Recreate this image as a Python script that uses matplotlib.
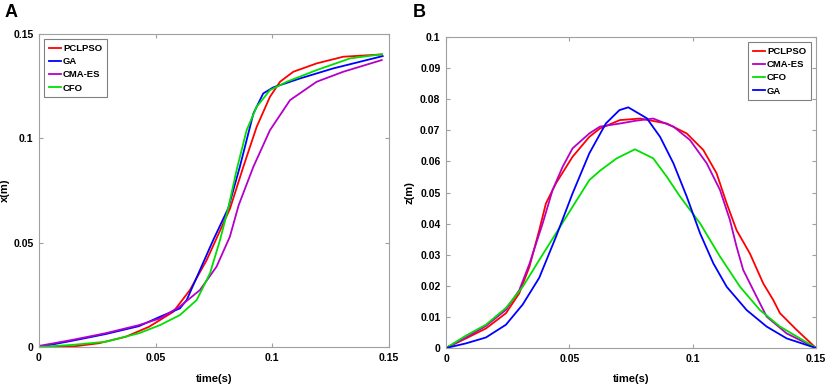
import numpy as np
from matplotlib import pyplot as plt

plt.rcParams['font.family'] = ['Liberation Sans', 'DejaVu Sans']
plt.rcParams['font.weight'] = 'bold'

# Panel A: x(m) over time(s)
tA_red = [0, 0.0143, 0.0257, 0.0372, 0.0472, 0.0576, 0.0647, 0.0719, 0.0819, 0.0876, 0.0933, 0.099, 0.1033, 0.109, 0.119, 0.1304, 0.1469]
xA_red = [0, 0.0002, 0.0018, 0.0049, 0.0097, 0.0169, 0.0273, 0.0417, 0.0664, 0.0864, 0.1055, 0.1199, 0.1271, 0.1319, 0.1359, 0.1391, 0.1402]

tA_blue = [0, 0.0143, 0.0286, 0.0429, 0.0519, 0.0604, 0.0633, 0.069, 0.0747, 0.0811, 0.0861, 0.0919, 0.0961, 0.1004, 0.1119, 0.1261, 0.1473]
xA_blue = [0, 0.0030, 0.0062, 0.0100, 0.0145, 0.0185, 0.0225, 0.0369, 0.0513, 0.0664, 0.0864, 0.1119, 0.1215, 0.1244, 0.1287, 0.1335, 0.1394]

tA_mag = [0, 0.0143, 0.0286, 0.0429, 0.0519, 0.0604, 0.069, 0.0761, 0.0818, 0.0856, 0.0919, 0.099, 0.1076, 0.119, 0.1304, 0.1469]
xA_mag = [0.0005, 0.0034, 0.0066, 0.0105, 0.0137, 0.0194, 0.0273, 0.0385, 0.0528, 0.0680, 0.0864, 0.1039, 0.1183, 0.1271, 0.1319, 0.1375]

tA_green = [0, 0.0143, 0.0286, 0.0429, 0.0519, 0.0604, 0.0676, 0.0733, 0.0776, 0.0811, 0.0847, 0.089, 0.0933, 0.099, 0.1062, 0.119, 0.1333, 0.147]
xA_green = [0, 0.0010, 0.0025, 0.0066, 0.0105, 0.0153, 0.0225, 0.0353, 0.0513, 0.0664, 0.0848, 0.1039, 0.1151, 0.1231, 0.1271, 0.1327, 0.1383, 0.1403]

# Panel B: z(m) over time(s)
tB_red = [0, 0.0081, 0.0162, 0.0243, 0.0297, 0.0338, 0.0378, 0.0405, 0.0446, 0.0513, 0.0581, 0.0624, 0.0705, 0.0787, 0.0895, 0.0976,
          0.1043, 0.1097, 0.1138, 0.1178, 0.1232, 0.1286, 0.1327, 0.1354, 0.1422, 0.15]
zB_red = [0, 0.0031, 0.0063, 0.0112, 0.0176, 0.0261, 0.0379, 0.0465, 0.0530, 0.0615, 0.0679, 0.0706, 0.0733, 0.0738, 0.0722, 0.0690,
          0.0637, 0.0562, 0.0465, 0.0379, 0.0304, 0.0208, 0.0154, 0.0112, 0.0058, 0]

tB_mag = [0, 0.0081, 0.0162, 0.0243, 0.0297, 0.0338, 0.0392, 0.0432, 0.0473, 0.0513, 0.0581, 0.0624, 0.0705, 0.077, 0.084, 0.0922,
          0.0989, 0.1057, 0.1111, 0.1151, 0.1178, 0.1205, 0.1246, 0.130, 0.1381, 0.15]
zB_mag = [0, 0.0034, 0.0071, 0.0123, 0.0186, 0.0270, 0.0401, 0.0508, 0.0583, 0.0642, 0.0690, 0.0712, 0.0722, 0.0731, 0.0738, 0.0712,
          0.0669, 0.0594, 0.0508, 0.0412, 0.0326, 0.0251, 0.0186, 0.0101, 0.0047, 0]

tB_green = [0, 0.0081, 0.0162, 0.0243, 0.0311, 0.0378, 0.0446, 0.0513, 0.0581, 0.0624, 0.0692, 0.0766, 0.084, 0.0895, 0.0949, 0.103,
            0.1111, 0.1192, 0.1273, 0.1354, 0.1435, 0.15]
zB_green = [0, 0.0040, 0.0075, 0.0129, 0.0197, 0.0283, 0.0369, 0.0454, 0.0540, 0.0570, 0.0610, 0.0639, 0.0610, 0.0551, 0.0487, 0.0401,
            0.0294, 0.0197, 0.0122, 0.0069, 0.0031, 0]

tB_blue = [0, 0.0081, 0.0162, 0.0243, 0.0311, 0.0378, 0.0446, 0.0513, 0.0581, 0.0648, 0.0703, 0.0739, 0.0814, 0.0868, 0.0922, 0.0976,
           0.103, 0.1084, 0.1138, 0.1219, 0.130, 0.1381, 0.15]
zB_blue = [0, 0.0015, 0.0034, 0.0075, 0.0140, 0.0226, 0.0358, 0.0497, 0.0626, 0.0722, 0.0765, 0.0774, 0.0739, 0.0679, 0.0594, 0.0487,
           0.0369, 0.0272, 0.0197, 0.0122, 0.0069, 0.0031, 0]

ticks_t = [0, 0.05, 0.1, 0.15]
ticksA_y = [0, 0.05, 0.1, 0.15]
ticksB_y = [0, 0.01, 0.02, 0.03, 0.04, 0.05, 0.06, 0.07, 0.08, 0.09, 0.1]

RED, BLUE, MAG, GREEN = '#ff0000', '#0000ff', '#b400c8', '#00e000'


def fmt(v):
    return '0' if v == 0 else ('%g' % v)


def style(ax):
    for s in ax.spines.values():
        s.set_color('#a0a0a0')
        s.set_linewidth(0.8)
    ax.tick_params(direction='in', top=True, right=True, length=3, color='#a0a0a0',
                   labelsize=7.5, pad=4)


def legend(ax, loc):
    leg = ax.legend(loc=loc, fontsize=6.8, handlelength=1.25, handletextpad=0.25,
                    labelspacing=0.45, borderpad=0.5, fancybox=False, framealpha=1,
                    borderaxespad=0.55)
    leg.get_frame().set_edgecolor('#808080')
    leg.get_frame().set_linewidth(0.8)


fig = plt.figure(figsize=(8.29, 3.88), dpi=100)

axA = fig.add_axes([0.047, 0.1057, 0.4222, 0.8067])
axA.plot(tA_red, xA_red, color=RED, lw=1.3, label='PCLPSO')
axA.plot(tA_blue, xA_blue, color=BLUE, lw=1.3, label='GA')
axA.plot(tA_mag, xA_mag, color=MAG, lw=1.3, label='CMA-ES')
axA.plot(tA_green, xA_green, color=GREEN, lw=1.3, label='CFO')
axA.set_xlim(0, 0.15)
axA.set_ylim(0, 0.15)
axA.set_xticks(ticks_t, [fmt(v) for v in ticks_t])
axA.set_yticks(ticksA_y, [fmt(v) for v in ticksA_y])
axA.set_xlabel('time(s)', fontsize=8, fontweight='bold')
axA.set_ylabel('x(m)', fontsize=8, fontweight='bold')
axA.xaxis.set_label_coords(0.5, -0.085)
axA.yaxis.set_label_coords(-0.083, 0.5)
style(axA)
legend(axA, 'upper left')

axB = fig.add_axes([0.538, 0.103, 0.4463, 0.8015])
axB.plot(tB_red, zB_red, color=RED, lw=1.3, label='PCLPSO')
axB.plot(tB_mag, zB_mag, color=MAG, lw=1.3, label='CMA-ES')
axB.plot(tB_green, zB_green, color=GREEN, lw=1.3, label='CFO')
axB.plot(tB_blue, zB_blue, color=BLUE, lw=1.3, label='GA')
axB.set_xlim(0, 0.15)
axB.set_ylim(0, 0.1)
axB.set_xticks(ticks_t, [fmt(v) for v in ticks_t])
axB.set_yticks(ticksB_y, [fmt(v) for v in ticksB_y])
axB.set_xlabel('time(s)', fontsize=8, fontweight='bold')
axB.set_ylabel('z(m)', fontsize=8, fontweight='bold')
axB.xaxis.set_label_coords(0.5, -0.085)
axB.yaxis.set_label_coords(-0.086, 0.5)
style(axB)
legend(axB, 'upper right')

fig.text(0.006, 0.968, 'A', fontsize=13, fontweight='bold', va='center')
fig.text(0.498, 0.968, 'B', fontsize=13, fontweight='bold', va='center')

fig.savefig('out.png', dpi=100)
